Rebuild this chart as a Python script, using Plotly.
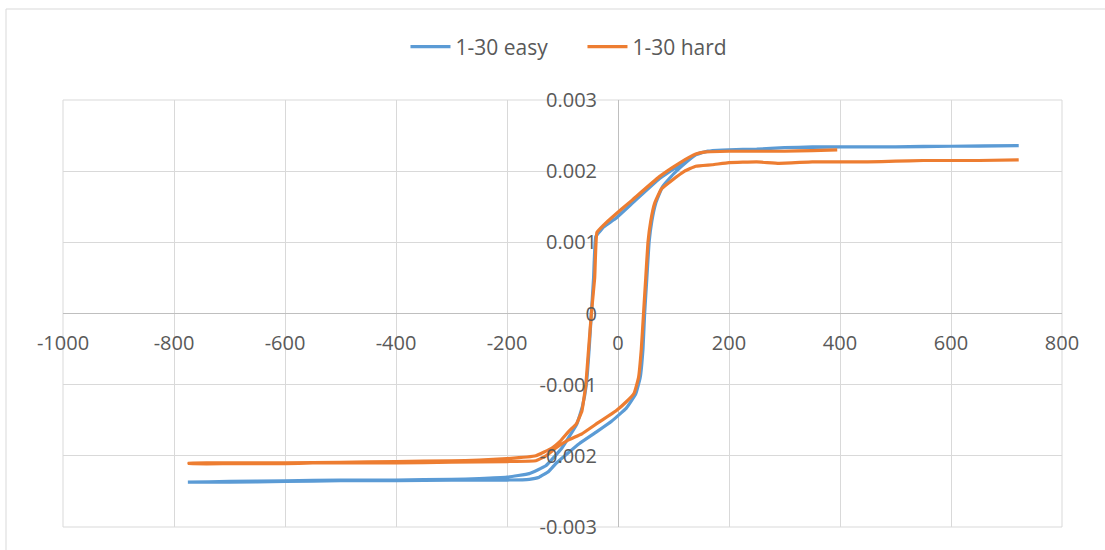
import plotly.graph_objects as go

# ---- data ----
easy_x = [722, 650, 600, 550, 500, 450, 400, 350, 300, 250, 200, 160, 140, 110, 74, 30, -5, -25, -40,
          -44, -48, -52, -57, -64, -74, -101, -130, -160, -200, -250, -300, -400, -500, -600, -700, -775,
          -775, -700, -600, -500, -400, -300, -200, -160, -142, -125, -112, -90, -70, -40, -11, 15, 32,
          40, 45, 48, 52, 56, 61, 68, 80, 100, 125, 145, 170, 200, 250, 300, 400, 500, 600, 722]
easy_y = [0.00236, 0.00235, 0.00235, 0.00235, 0.00234, 0.00234, 0.00234, 0.00234, 0.00233, 0.00231,
          0.00230, 0.00228, 0.00223, 0.00208, 0.00189, 0.00158, 0.00133, 0.00122, 0.00108,
          0.0005, 0.0, -0.0005, -0.0010, -0.0013, -0.00155, -0.00189, -0.00214, -0.00225, -0.00230,
          -0.00232, -0.00233, -0.00234, -0.00234, -0.00235, -0.00236, -0.00237,
          -0.00237, -0.00237, -0.00236, -0.00235, -0.00235, -0.00234, -0.00234, -0.00233, -0.00230,
          -0.00222, -0.00211, -0.00196, -0.00183, -0.00167, -0.00151, -0.00133, -0.00113,
          -0.0009, -0.0005, 0.0, 0.0005, 0.0010, 0.0013, 0.00155, 0.00178, 0.00196, 0.00214, 0.00225,
          0.00229, 0.00230, 0.00231, 0.00233, 0.00234, 0.00234, 0.00235, 0.00236]

hard_x = [395, 350, 300, 250, 200, 158, 140, 110, 74, 25, -11, -25, -38,
          -42, -48, -53, -58, -65, -75, -88, -105, -119, -148, -200, -250, -300, -400, -500, -600,
          -700, -773,
          -773, -700, -600, -550, -500, -400, -300, -200, -148, -130, -112, -90, -65, -35, -4, 15, 29,
          37, 42, 46, 50, 54, 59, 66, 78, 97, 120, 140, 170, 200, 250, 290, 350, 400, 450, 500, 550,
          600, 650, 722]
hard_y = [0.00230, 0.00229, 0.00228, 0.00228, 0.00228, 0.00227, 0.00224, 0.00211, 0.00192, 0.00159,
          0.00135, 0.00125, 0.00114,
          0.0005, 0.0, -0.0005, -0.0010, -0.00137, -0.00155, -0.00165, -0.00180, -0.00189, -0.00200,
          -0.00204, -0.00206, -0.00207, -0.00208, -0.00209, -0.00210, -0.00210, -0.00210,
          -0.00211, -0.00211, -0.00211, -0.00210, -0.00210, -0.00210, -0.00209, -0.00208, -0.00207,
          -0.00200, -0.00189, -0.00178, -0.00169, -0.00153, -0.00137, -0.00124, -0.00112,
          -0.0009, -0.0005, 0.0, 0.0005, 0.0010, 0.0013, 0.00155, 0.00175, 0.00187, 0.00200, 0.00207,
          0.00209, 0.00212, 0.00213, 0.00211, 0.00213, 0.00213, 0.00213, 0.00214, 0.00215, 0.00215,
          0.00215, 0.00216]

x_ticks = [-1000, -800, -600, -400, -200, 0, 200, 400, 600, 800]
x_labels = ["-1000", "-800", "-600", "-400", "-200", "0", "200", "400", "600", "800"]
y_ticks = [-0.003, -0.002, -0.001, 0, 0.001, 0.002, 0.003]
y_labels = ["-0.003", "-0.002", "-0.001", "0", "0.001", "0.002", "0.003"]

BLUE = "#5B9BD5"
ORANGE = "#ED7D31"
GRID = "#D9D9D9"
TEXT = "#595959"
FONT = "Open Sans"

fig = go.Figure()
fig.add_trace(go.Scatter(x=easy_x, y=easy_y, mode="lines", name="1-30 easy",
                         line=dict(color=BLUE, width=3.2, shape="spline", smoothing=0.3)))
fig.add_trace(go.Scatter(x=hard_x, y=hard_y, mode="lines", name="1-30 hard",
                         line=dict(color=ORANGE, width=3.2, shape="spline", smoothing=0.3)))

W, H = 1105, 550
L, R, T, B = 63, 43, 100, 23
pw, ph = W - L - R, H - T - B

fig.update_layout(
    width=W, height=H,
    margin=dict(l=L, r=R, t=T, b=B, autoexpand=False),
    paper_bgcolor="white", plot_bgcolor="white",
    font=dict(family=FONT, size=20, color=TEXT),
    showlegend=True,
    legend=dict(orientation="h", x=0.52, xanchor="center", y=(H - B - 47) / ph, yanchor="middle",
                font=dict(family=FONT, size=21, color=TEXT), bgcolor="rgba(0,0,0,0)",
                entrywidth=122, itemwidth=40),
    xaxis=dict(range=[-1000, 800], tickvals=x_ticks, ticktext=x_labels, showgrid=True,
               gridcolor=GRID, gridwidth=1, zeroline=True, zerolinecolor="#BFBFBF", zerolinewidth=1,
               anchor="free", position=0.5, ticks="", ticklabelstandoff=15, automargin=False,
               tickfont=dict(family=FONT, size=20, color=TEXT)),
    yaxis=dict(range=[-0.003, 0.003], tickvals=y_ticks, ticktext=y_labels, showgrid=True,
               gridcolor=GRID, gridwidth=1, zeroline=True, zerolinecolor="#BFBFBF", zerolinewidth=1,
               anchor="free", position=(619 - L) / pw, ticks="", ticklabelstandoff=22, automargin=False,
               tickfont=dict(family=FONT, size=20, color=TEXT)),
    shapes=[
        dict(type="rect", xref="paper", yref="paper", x0=0, x1=1, y0=0, y1=1,
             line=dict(color=GRID, width=1), layer="below"),
        dict(type="rect", xref="paper", yref="paper", x0=(6 - L) / pw, x1=1.08,
             y0=-0.1, y1=(H - B - 9) / ph, line=dict(color=GRID, width=1), layer="below"),
    ],
)

fig.write_html("out.html", config={"displayModeBar": False},
               post_script="document.body.style.margin='0';")
